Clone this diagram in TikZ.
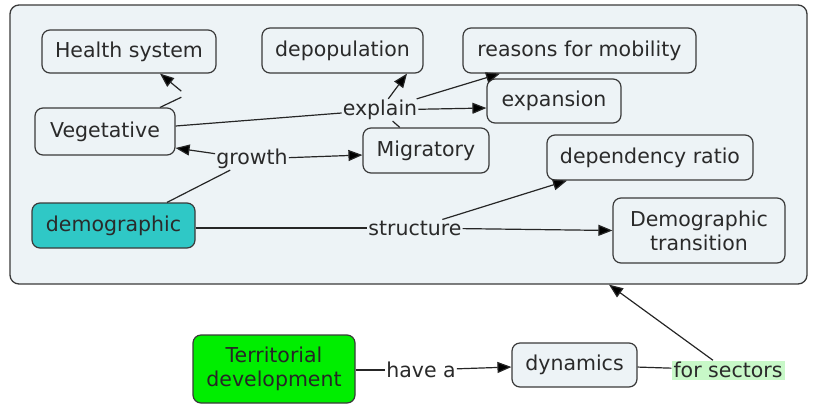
\documentclass[tikz,border=0pt]{standalone}
\usepackage{fontspec}
\setmainfont{DejaVu Sans}
\usetikzlibrary{arrows.meta,calc}
\definecolor{bgc}{HTML}{EDF3F6}
\definecolor{linec}{HTML}{262626}
\definecolor{borderc}{HTML}{3A3A3A}
\definecolor{tealc}{HTML}{2FC8C6}
\definecolor{greenc}{HTML}{00EE00}
\definecolor{lgreenc}{HTML}{C8F8C8}
\definecolor{textc}{HTML}{2A2A2A}
\begin{document}
\begin{tikzpicture}[x=1pt,y=-1pt,
  font=\fontsize{20.5}{24}\selectfont,
  concept/.style={draw=borderc, line width=1.2pt, rounded corners=8pt, fill=bgc,
    text=textc, inner sep=0pt, align=center},
  lbl/.style={fill=bgc, text=textc, inner sep=1pt},
  conn/.style={draw=linec, line width=1.2pt},
  arr/.style={conn, -{Triangle[length=14pt,width=11pt,fill=black]}}
]
\useasboundingbox (0,0) rectangle (818,405);
% frame
\node[draw=borderc, line width=1.3pt, rounded corners=9pt, fill=bgc,
  minimum width=797pt, minimum height=279pt, inner sep=0pt] (frame) at (408.5,144.5) {};
% concepts
\node[concept, minimum width=174pt, minimum height=43pt] (hs) at (129,51.5) {Health system};
\node[concept, minimum width=161pt, minimum height=45pt] (dep) at (342.5,50.5) {depopulation};
\node[concept, minimum width=233pt, minimum height=45pt] (rfm) at (579.5,50.5) {reasons for mobility};
\node[concept, minimum width=134pt, minimum height=44pt] (exp) at (554,101) {expansion};
\node[concept, minimum width=140pt, minimum height=47pt] (veg) at (105,131.5) {Vegetative};
\node[concept, minimum width=126pt, minimum height=45pt] (mig) at (426,150.5) {Migratory};
\node[concept, minimum width=206pt, minimum height=45pt] (dr) at (650,157.5) {dependency ratio};
\node[concept, fill=tealc, minimum width=163pt, minimum height=45pt] (dem) at (113.5,225.5) {demographic};
\node[concept, minimum width=172pt, minimum height=65pt] (dt) at (699,230.5) {Demographic\\transition};
\node[concept, fill=greenc, text=black!85, minimum width=162pt, minimum height=68pt] (td) at (274,369) {Territorial\\development};
\node[concept, minimum width=125pt, minimum height=44pt] (dyn) at (574.5,365) {dynamics};
% linking phrases
\node[lbl] (explain) at (380,110) {explain};
\node[lbl] (growth) at (252,159) {growth};
\node[lbl] (structure) at (415,228) {structure};
\node[lbl, fill=white] (havea) at (421,370) {have a};
\node[lbl, fill=lgreenc, inner sep=0.5pt, minimum width=113pt, minimum height=19pt] (forsec) at (728,370) {for sectors};
\node[inner sep=0pt, minimum size=9pt] (blank) at (186,95) {};
% connectors
\draw[conn] (veg.north -| 160,0) -- (blank);
\draw[arr] (blank) -- (hs.south -| 160,0);
\draw[conn] (veg) -- (explain);
\draw[conn] (mig) -- (explain);
\draw[arr] (explain) -- (dep.south -| 407,0);
\draw[arr] (explain) -- (rfm.south -| 500,0);
\draw[arr] (explain) -- (exp.west |- 0,108);
\draw[conn] (dem.north -| 167,0) -- (growth);
\draw[arr] (growth) -- (veg.east |- 0,148);
\draw[arr] (growth) -- (mig.west |- 0,155);
\draw[conn] (dem.east |- structure.west) -- (structure);
\draw[arr] (structure) -- (dt.west);
\draw[arr] (structure) -- (dr.south -| 567,0);
\draw[conn] (td.east |- havea) -- (havea);
\draw[arr] (havea) -- (dyn.west |- 0,367);
\draw[conn] (dyn) -- (forsec);
\draw[arr] (forsec.north -| 713,0) -- (frame.south -| 609,0);
\end{tikzpicture}
\end{document}
